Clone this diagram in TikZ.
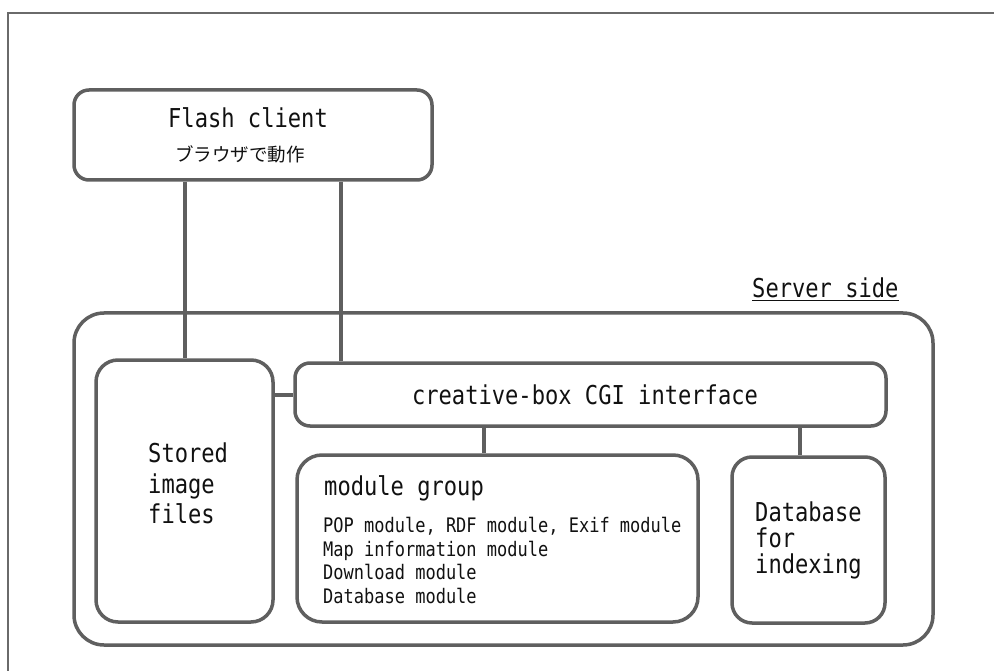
\documentclass[tikz,border=0pt]{standalone}
\usepackage{fontspec}
\usepackage{xcolor}
\usepackage{tikz}
\usetikzlibrary{calc}
\newfontfamily\drawfont[FakeStretch=0.85]{DejaVu Sans Mono}
\newfontfamily\jpfont{Noto Sans CJK JP}
\definecolor{ink}{HTML}{111111}
\definecolor{edge}{HTML}{5F5F5F}
\definecolor{frame}{HTML}{6A6A6A}
\tikzset{
  box/.style={rectangle, draw=edge, line width=3.5pt, fill=white, inner sep=0pt},
  link/.style={draw=edge, line width=4pt},
  big/.style={font=\drawfont\fontsize{26}{31}\selectfont, text=ink, inner sep=0pt},
  small/.style={font=\drawfont\fontsize{20}{23.5}\selectfont, text=ink, inner sep=0pt}
}
\begin{document}
\begin{tikzpicture}[x=1pt, y=-1pt]
  \useasboundingbox (0,0) rectangle (994,671);
  % page frame
  \draw[frame, line width=2pt] (8,671) -- (8,13) -- (994,13);
  % client
  \node[box, rounded corners=15pt, minimum width=358pt, minimum height=90pt] (client) at (253,135) {};
  \node[big] (clientname) at (248,118) {Flash client};
  \node[font=\jpfont\fontsize{18.5}{20}\selectfont, text=ink, inner sep=0pt] (clientnote) at (240,154) {ブラウザで動作};
  % server side
  \node[big, anchor=base west] (serverlbl) at (752,298) {\underline{Server side}};
  \node[box, rounded corners=30pt, minimum width=859pt, minimum height=332pt] (server) at (503.5,479) {};
  \node[box, rounded corners=22pt, minimum width=177pt, minimum height=262pt] (stored) at (184.5,491) {};
  \node[big, align=left, anchor=north west, font=\drawfont\fontsize{26}{30.5}\selectfont] (storedtxt) at (148,443) {Stored\\image\\files};
  \node[box, rounded corners=15pt, minimum width=591pt, minimum height=63pt] (cgi) at (590.5,394.5) {};
  \node[big] (cgitxt) at (585,395) {creative-box CGI interface};
  \node[box, rounded corners=25pt, minimum width=401pt, minimum height=167pt] (modules) at (497.5,538.5) {};
  \node[big, anchor=west] (modhead) at (324,488) {module group};
  \node[small, align=left, anchor=north west] (modlist) at (323,517)
    {POP module, RDF module, Exif module\\Map information module\\Download module\\Database module};
  \node[box, rounded corners=20pt, minimum width=153pt, minimum height=166pt] (indexdb) at (808.5,540) {};
  \node[big, align=left, anchor=north west, font=\drawfont\fontsize{26}{26}\selectfont] (indextxt) at (755,502) {Database\\for\\indexing};
  % links
  \draw[link] (stored.north |- client.south) -- (stored.north);
  \draw[link] ([xshift=48pt]cgi.north west |- client.south) -- ([xshift=48pt]cgi.north west);
  \draw[link] (stored.east |- cgi.west) -- (cgi.west);
  \draw[link] ([xshift=-14pt]modules.north |- cgi.south) -- ([xshift=-14pt]modules.north);
  \draw[link] ([xshift=-9pt]indexdb.north |- cgi.south) -- ([xshift=-9pt]indexdb.north);
\end{tikzpicture}
\end{document}
